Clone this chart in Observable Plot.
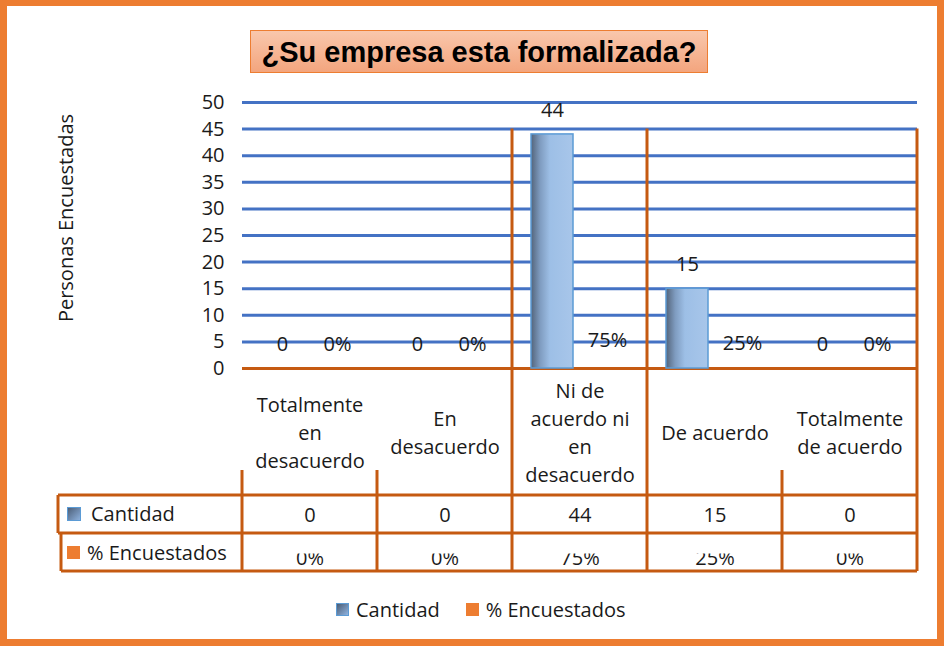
<!DOCTYPE html>
<html>
<head>
<meta charset="utf-8">
<script src="https://cdn.jsdelivr.net/npm/d3@7"></script>
<script src="https://cdn.jsdelivr.net/npm/@observablehq/plot@0.6"></script>
<style>
  body { margin: 0; background: #fff; }
  #wrap { position: relative; width: 944px; height: 646px; overflow: hidden; font-family: "Open Sans", sans-serif; color: #1a1a1a; }
  #chart { position: absolute; left: 0; top: 0; }
  #frame { position: absolute; left: 0; top: 0; width: 944px; height: 646px; box-sizing: border-box; border: 7px solid #ED7D31; border-top-width: 6px; pointer-events: none; }
  #title { position: absolute; left: 250px; top: 30px; width: 458px; height: 43px; box-sizing: border-box;
           border: 1.5px solid #ED7D31; background: linear-gradient(#F9C7AC, #F3A57E);
           font: bold 29px "Liberation Sans", Arial, sans-serif; text-align: center; line-height: 42px; color: #000; }
  #legend { position: absolute; left: 336px; top: 596px; display: flex; align-items: center; font-size: 20px; }
  #legend .sw { width: 13px; height: 13px; display: inline-block; box-sizing: border-box; margin-right: 7px; }
  #legend .item { display: flex; align-items: center; margin-right: 26px; }
</style>
</head>
<body>
<div id="wrap">
  <div id="chart"></div>
  <div id="title">¿Su empresa esta formalizada?</div>
  <div id="legend"></div>
  <div id="frame"></div>
</div>
<script>
// ---- data ----
const categories = ["Totalmente en desacuerdo", "En desacuerdo", "Ni de acuerdo ni en desacuerdo", "De acuerdo", "Totalmente de acuerdo"];
const categoryLines = ["Totalmente\nen\ndesacuerdo", "En\ndesacuerdo", "Ni de\nacuerdo ni\nen\ndesacuerdo", "De acuerdo", "Totalmente\nde acuerdo"];
const series = ["Cantidad", "% Encuestados"];
const cantidad = [0, 0, 44, 15, 0];
const encuestados = [0, 0, 0.75, 0.25, 0];
const yTicks = [0, 5, 10, 15, 20, 25, 30, 35, 40, 45, 50];
const yLabel = "Personas Encuestadas";

const fmtPct = d3.format(".0%");
const rows = [];
categories.forEach((c, i) => {
  rows.push({cat: c, serie: series[0], value: cantidad[i], label: String(cantidad[i])});
  rows.push({cat: c, serie: series[1], value: encuestados[i], label: fmtPct(encuestados[i])});
});
const barRows = rows.filter(r => r.serie === series[0]);

// layout helpers (pixel -> y data units for the table under the chart)
const H = 646, MT = 102, MB = 278;
const yPerPx = 50 / (H - MT - MB);
const yAt = px => (H - MB - px) * yPerPx;

const ORANGE = "#C55A11";

const plot = Plot.plot({
  width: 944,
  height: H,
  marginLeft: 241,
  marginRight: 26,
  marginTop: MT,
  marginBottom: MB,
  style: {fontFamily: "Open Sans, sans-serif", fontSize: "20px", color: "#1a1a1a", background: "transparent"},
  fx: {domain: categories, padding: 0, axis: null, label: null},
  x: {domain: series, paddingInner: 0.232, paddingOuter: 0.325, axis: null, label: null},
  y: {domain: [0, 50], ticks: yTicks, tickSize: 0, tickPadding: 18, label: null},
  marks: [
    Plot.ruleY(yTicks.filter(v => v > 0), {stroke: "#4472C4", strokeWidth: 3}),
    Plot.ruleY([0], {stroke: ORANGE, strokeWidth: 3}),
    Plot.barY(barRows, {fx: "cat", x: "serie", y: "value", fill: "url(#barGrad)", stroke: "#5B9BD5", strokeWidth: 1.5}),
    Plot.text(rows, {fx: "cat", x: "serie", y: "value", text: "label", dy: -24, fill: "#1a1a1a"}),
    // table: category header
    Plot.text(categories, {fx: d => d, y: () => yAt(431), text: (d, i) => categoryLines[i], lineHeight: 1.4, frameAnchor: "middle", fill: "#1a1a1a"}),
    // table: Cantidad row
    Plot.text(cantidad, {fx: (d, i) => categories[i], y: () => yAt(515), text: d => String(d), frameAnchor: "middle", fill: "#1a1a1a"}),
    // table: % row
    Plot.text(encuestados, {fx: (d, i) => categories[i], y: () => yAt(558.5), text: d => fmtPct(d), frameAnchor: "middle", fill: "#1a1a1a"})
  ]
});

document.getElementById("chart").appendChild(plot);

const svg = d3.select(plot);
const defs = svg.insert("defs", ":first-child");
const g1 = defs.append("linearGradient").attr("id", "barGrad").attr("x1", 0).attr("x2", 1).attr("y1", 0).attr("y2", 0);
g1.append("stop").attr("offset", "0%").attr("stop-color", "#53647a");
g1.append("stop").attr("offset", "22%").attr("stop-color", "#7f9cc0");
g1.append("stop").attr("offset", "45%").attr("stop-color", "#9dbfe6");
g1.append("stop").attr("offset", "100%").attr("stop-color", "#a8c6ea");
const g2 = defs.append("linearGradient").attr("id", "swGrad").attr("x1", 0).attr("x2", 1).attr("y1", 0).attr("y2", 1);
g2.append("stop").attr("offset", "0%").attr("stop-color", "#4a5c74");
g2.append("stop").attr("offset", "100%").attr("stop-color", "#8fb3e0");

// clip the top of the % row glyphs (they are cut in the original table)
const svgTop = plot.getBoundingClientRect().top;
svg.selectAll("text").each(function () {
  const r = this.getBoundingClientRect();
  const cy = (r.top + r.bottom) / 2 - svgTop;
  if (cy > 545 && cy < 580 && /%$/.test(this.textContent)) {
    const off = this.getBBox().y - (r.top - svgTop); // local minus absolute
    const id = "clip" + Math.random().toString(36).slice(2);
    defs.append("clipPath").attr("id", id).attr("clipPathUnits", "userSpaceOnUse")
      .append("rect").attr("x", -3000).attr("y", 553.5 + off).attr("width", 6000).attr("height", 30);
    d3.select(this).attr("clip-path", `url(#${id})`);
  }
});

// table lines via scales
const fx = plot.scale("fx");
const bw = fx.bandwidth;
const bounds = categories.map(c => fx.apply(c)).concat([fx.apply(categories[categories.length - 1]) + bw]);
const yS = plot.scale("y");
const top45 = yS.apply(45);
const lines = svg.append("g").attr("stroke", ORANGE).attr("stroke-width", 3).attr("fill", "none");
const xEnd = bounds[bounds.length - 1];
lines.append("line").attr("x1", 58).attr("x2", xEnd).attr("y1", 495).attr("y2", 495);
lines.append("line").attr("x1", 58).attr("x2", xEnd).attr("y1", 533).attr("y2", 533);
lines.append("line").attr("x1", 61).attr("x2", xEnd).attr("y1", 571).attr("y2", 571);
lines.append("line").attr("x1", 58).attr("x2", 58).attr("y1", 495).attr("y2", 533);
lines.append("line").attr("x1", 61).attr("x2", 61).attr("y1", 533).attr("y2", 571);
const tall = new Set([2, 3, 5]);
bounds.forEach((x, i) => {
  lines.append("line").attr("x1", x).attr("x2", x).attr("y1", tall.has(i) ? top45 : 470).attr("y2", 571);
});

// left column of the table
const lc = svg.append("g").attr("font-size", 20).attr("fill", "#1a1a1a").attr("text-anchor", "start");
lc.append("rect").attr("x", 67.5).attr("y", 507.5).attr("width", 13).attr("height", 13).attr("fill", "url(#swGrad)").attr("stroke", "#5B9BD5");
lc.append("text").attr("x", 91).attr("y", 514).attr("dy", "0.35em").attr("text-anchor", "start").text(series[0]);
lc.append("rect").attr("x", 67).attr("y", 546).attr("width", 13).attr("height", 13).attr("fill", "#ED7D31");
lc.append("text").attr("x", 87).attr("y", 552.5).attr("dy", "0.35em").attr("text-anchor", "start").text(series[1]);

// y axis title
svg.append("text").attr("transform", "translate(66,218) rotate(-90)").attr("text-anchor", "middle").attr("dy", "0.35em")
  .attr("font-size", 20).attr("fill", "#1a1a1a").text(yLabel);

// legend
const leg = document.getElementById("legend");
leg.innerHTML =
  `<span class="item"><span class="sw" style="background:linear-gradient(135deg,#4a5c74,#8fb3e0);border:1px solid #5B9BD5"></span>${series[0]}</span>` +
  `<span class="item"><span class="sw" style="background:#ED7D31"></span>${series[1]}</span>`;
</script>
</body>
</html>
